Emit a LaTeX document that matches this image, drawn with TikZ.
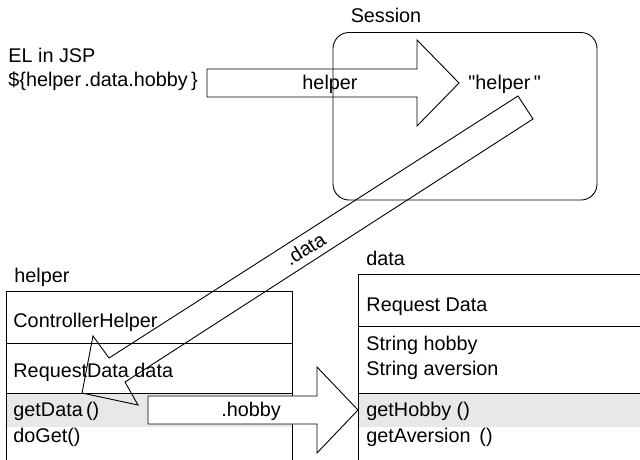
\documentclass[tikz,border=0pt]{standalone}
\usepackage{fontspec}
\setmainfont{Liberation Sans}[Ligatures=TeXOff]
\definecolor{rowgray}{RGB}{231,232,231}
\begin{document}
\begin{tikzpicture}[x=1pt,y=-1pt,
  line width=0.9pt, line join=miter,
  txt/.style={inner sep=0pt, anchor=base west, font=\fontsize{19.8}{23}\selectfont},
  ctxt/.style={inner sep=0pt, anchor=base, font=\fontsize{19.8}{23}\selectfont},
  blockarrow/.style={draw=black, line width=0.9pt},
  boxline/.style={draw=black, line width=0.9pt}]
\useasboundingbox (0,0) rectangle (640,459);
\begin{scope}
\clip (0,0) rectangle (640,459);
% Session container
\draw[boxline, rounded corners=16pt] (333,32.5) rectangle (597,200);
\node[ctxt] (session) at (386,22) {Session};
% helper (ControllerHelper) box
\fill[rowgray] (6,393) rectangle (292,427);
\draw[boxline] (6,470) -- (6,291) -- (292,291) -- (292,470);
\draw[boxline] (6,343) -- (292,343);
\draw[boxline] (6,393) -- (292,393);
% data (Request Data) box
\fill[rowgray] (358,393) rectangle (660,427);
\draw[boxline] (358,470) -- (358,274) -- (660,274);
\draw[boxline] (358,326) -- (660,326);
\draw[boxline] (358,393) -- (660,393);
\end{scope}
% texts
\node[txt] (el) at (8,62) {EL in JSP};
\node[txt] (expr) at (8,86) {\$\{helper\,.data.hobby\,\}};
\node[txt] (quoted) at (468,89) {"helper\,"};
\node[txt] (helperlbl) at (14,282) {helper};
\node[txt] (ctrl) at (13,327) {ControllerHelper};
\node[txt] (reqfield) at (13,377) {RequestData data};
\node[txt] (getdata) at (13,416) {getData\,()};
\node[txt] (doget) at (13,442) {doGet()};
\node[txt] (datalbl) at (366,265) {data};
\node[txt] (reqdata) at (366,311) {Request Data};
\node[txt] (shobby) at (366,350) {String hobby};
\node[txt] (saversion) at (366,375) {String aversion};
\node[txt] (gethobby) at (366,416) {getHobby ()};
\node[txt] (getaversion) at (366,442) {getAversion \,()};
% helper arrow (EL -> Session)
\draw[blockarrow] (207,69) -- (417,69) -- (417,40) -- (459,83) -- (417,126) -- (417,97) -- (207,97) -- cycle;
\node[ctxt] (helperarrow) at (330,89) {helper};
% .data arrow (Session -> helper field)
\draw[blockarrow] (518,96) -- (533,119) -- (125,382) -- (138,405) -- (82,393) -- (93,336) -- (109,358) -- cycle;
\node[inner sep=0pt, rotate=32.6, font=\fontsize{19.8}{23}\selectfont] (dataarrow) at (305,249) {.data};
% .hobby arrow (getData -> getHobby)
\draw[blockarrow, fill=white] (148,396) -- (317,396) -- (317,367) -- (358,410) -- (317,453) -- (317,424) -- (148,424) -- cycle;
\node[ctxt] (hobbyarrow) at (251,416) {.hobby};
\end{tikzpicture}
\end{document}
